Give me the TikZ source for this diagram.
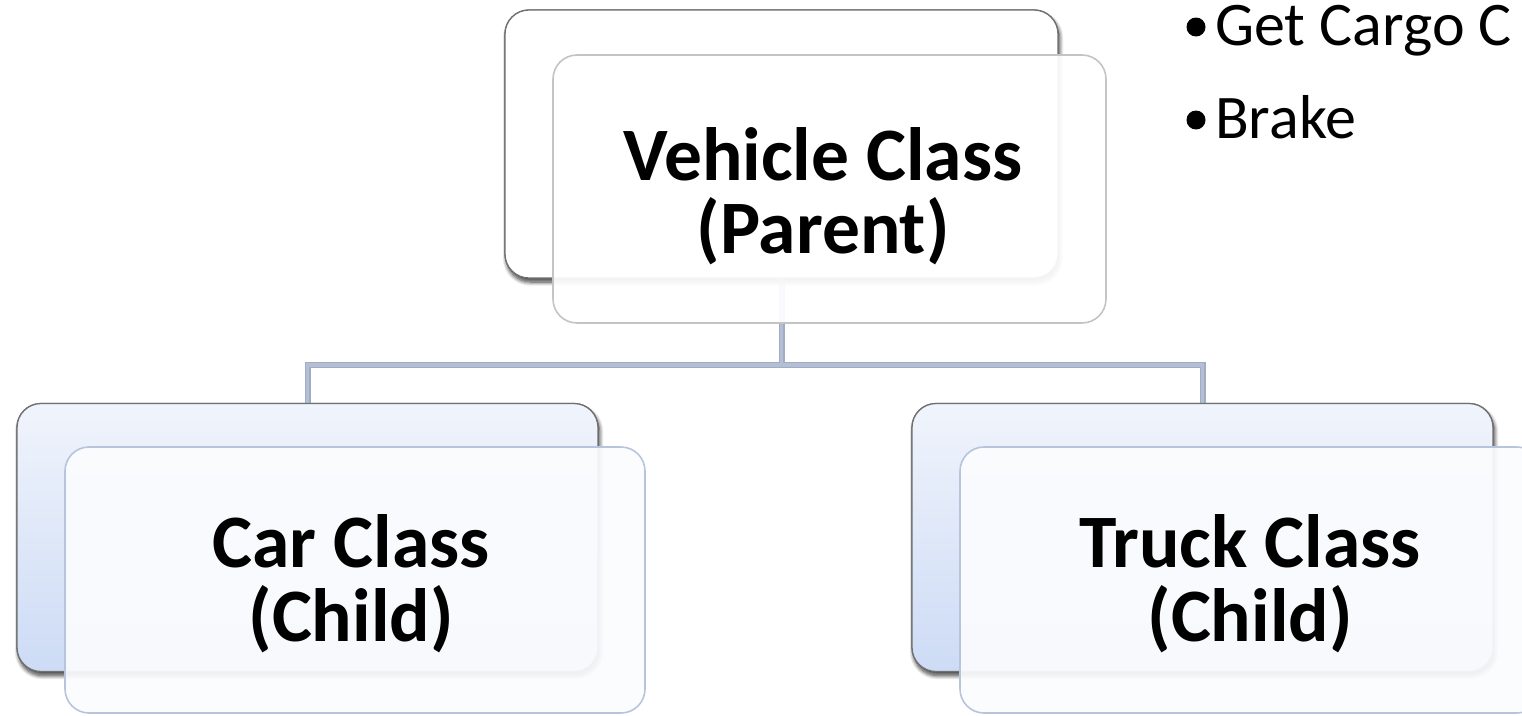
\documentclass[tikz,border=0pt]{standalone}
\usepackage{fontspec}
\setmainfont{Carlito}
\usetikzlibrary{shadows.blur}

\definecolor{backedge}{RGB}{112,112,112}
\definecolor{frontgray}{RGB}{196,196,196}
\definecolor{frontblue}{RGB}{184,196,220}
\definecolor{frontfill}{RGB}{251,252,254}
\definecolor{blueTop}{RGB}{240,244,252}
\definecolor{blueBot}{RGB}{205,219,245}
\definecolor{busline}{RGB}{180,191,214}
\definecolor{busedge}{RGB}{160,172,196}

\tikzset{
  card/.style={rectangle, rounded corners=24pt, inner sep=0pt,
    minimum width=553pt, minimum height=268pt},
  widecard/.style={card, minimum width=581pt, minimum height=268pt},
  backplain/.style={draw=backedge, line width=1.3pt, fill=white,
    blur shadow={shadow xshift=1.5pt, shadow yshift=-4pt,
      shadow blur radius=4pt, shadow blur steps=8, shadow opacity=45}},
  backblue/.style={draw=backedge, line width=1.3pt,
    top color=blueTop, bottom color=blueBot,
    blur shadow={shadow xshift=1.5pt, shadow yshift=-4pt,
      shadow blur radius=4pt, shadow blur steps=8, shadow opacity=45}},
  frontplain/.style={draw=frontgray, line width=1.6pt, fill=white, fill opacity=0.93},
  frontblue/.style={draw=frontblue, line width=1.6pt, fill=frontfill, fill opacity=0.93},
  caption/.style={inner sep=0pt, anchor=base,
    font=\fontsize{75.5}{75.5}\selectfont\bfseries},
  bulletline/.style={inner sep=0pt, anchor=base west,
    font=\fontsize{62}{62}\selectfont},
  bulletdot/.style={circle, fill=black, inner sep=0pt, minimum size=19pt},
  bus/.style={draw=busedge, line width=6pt, line cap=rect},
  businner/.style={draw=busline, line width=3.6pt, line cap=rect}
}

\begin{document}
\begin{tikzpicture}[x=1pt, y=-1pt]
\useasboundingbox (0,0) rectangle (1522,715);
\clip (0,0) rectangle (1522,715);

% tree bus coordinate
\coordinate (bus) at (0,365);

% back cards
\node[card, backplain] (vback) at (781.5,144) {};
\node[widecard, backblue] (cback) at (307.5,537.5) {};
\node[widecard, backblue] (tback) at (1202.5,537.5) {};

% connectors from the parent to the children
\foreach \s in {bus, businner}{
  \draw[\s] (vback.south) -- (vback.south |- bus);
  \draw[\s] (cback.north) |- (vback.south |- bus) -| (tback.north);
}

% redraw back cards over the bus ends
\node[card, backplain] at (781.5,144) {};
\node[widecard, backblue] at (307.5,537.5) {};
\node[widecard, backblue] at (1202.5,537.5) {};

% front cards
\node[card, frontplain, minimum width=553pt] (vfront) at (829.5,189) {};
\node[widecard, frontblue, minimum width=580pt, minimum height=266pt] (cfront) at (355,580) {};
\node[widecard, frontblue, minimum width=581pt, minimum height=266pt] (tfront) at (1250.5,580) {};

% captions
\node[caption] (vname) at (823,180) {Vehicle Class};
\node[caption] (vrole) at (823,253) {(Parent)};
\node[caption] (cname) at (351,567) {Car Class};
\node[caption] (crole) at (351,641) {(Child)};
\node[caption] (tname) at (1250,567) {Truck Class};
\node[caption] (trole) at (1250,641) {(Child)};

% method list
\node[bulletdot] (b1) at (1196,27) {};
\node[bulletline] (m1) at (1215,45) {Get Cargo C};
\node[bulletdot] (b2) at (1196,120) {};
\node[bulletline] (m2) at (1215,138) {Brake};
\end{tikzpicture}
\end{document}
